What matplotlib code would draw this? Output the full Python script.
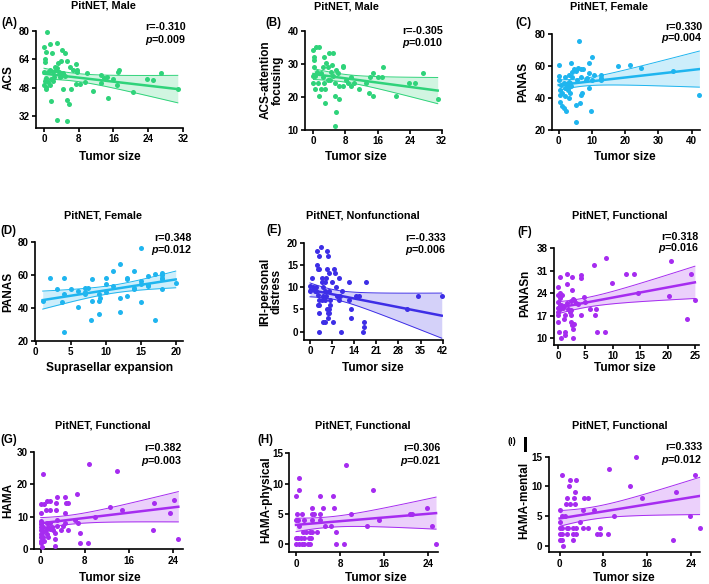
import numpy as np
import matplotlib
matplotlib.use("Agg")
import matplotlib.pyplot as plt
from matplotlib.patches import Rectangle

plt.rcParams['font.family'] = ['Liberation Sans', 'DejaVu Sans']
plt.rcParams['font.weight'] = 'bold'
plt.rcParams['mathtext.fontset'] = 'custom'
plt.rcParams['mathtext.it'] = 'Liberation Sans:italic:bold'
plt.rcParams['mathtext.rm'] = 'Liberation Sans:bold'

# ---- data: (x, y) points and the drawn fit (intercept, slope)
a_pts = [(0.7, 79.1), (0, 71), (1.3, 72.3), (2.9, 73.3), (4.2, 69.2), (4.9, 67.3), (1.8, 67.3), (0.4, 68.2),
         (0.15, 63.9), (0.15, 62.4), (5.3, 63.2), (3.8, 63.2), (3.2, 62), (7.3, 61.3), (6.1, 59.8), (6.7, 58),
         (7.6, 58), (2.5, 59.8), (3.0, 58.9), (2.7, 58), (1.3, 58), (0.9, 57), (0, 56.5), (2.1, 56.5),
         (3.4, 56.8), (4.4, 56.1), (4.8, 54.6), (3.6, 54.2), (2.3, 53.9), (1.5, 52.7), (0.5, 53.1), (0.15, 51.8),
         (1.0, 50.9), (2.1, 51.4), (0, 49.6), (0.4, 48.2), (0.5, 47.1), (1.3, 49.6), (4.0, 54.6), (4.4, 47.1),
         (6.3, 47.1), (7.3, 50.1), (8.2, 50.1), (7.6, 56.5), (9.9, 56.1), (9.4, 50.9), (11.2, 46.2), (1.5, 40.2),
         (5.2, 41.2), (5.7, 38.9), (2.9, 29.9), (5.4, 29), (13.1, 55.2), (13.8, 53.3), (14.5, 53.9), (13.2, 50.5),
         (15.9, 52.7), (16.7, 49.2), (17.2, 58), (17.1, 56.5), (14.8, 42.1), (20.5, 45.3), (23.6, 52.9),
         (25.2, 52), (26.9, 56.1), (30.8, 47.1)]
a_fit = (55.8, -0.282)

b_pts = [(0, 34.2), (0.7, 35.2), (1.3, 35.2), (0.2, 32.1), (0.1, 31.1), (2.7, 32.1), (4, 33.2), (5, 33.2),
         (3.2, 30.1), (0.25, 29.1), (2.3, 29.1), (3.6, 29.1), (4.6, 29.6), (5.7, 28.1), (7.3, 29.1), (7.5, 29.3),
         (1, 27.6), (1.9, 27.3), (4.4, 27.6), (6.1, 27.3), (0, 26.3), (0.5, 26.3), (2.5, 26.1), (4.8, 26.3),
         (3.6, 25.1), (4.2, 25.1), (1.2, 24.3), (0, 24.3), (2.7, 24.1), (5.3, 24.1), (6.5, 23.3), (7.5, 23.3),
         (8.2, 25.1), (8.6, 24.3), (9.4, 23.3), (10, 24.1), (9.4, 26.1), (0.4, 22.3), (1.9, 22.3), (2.8, 22.3),
         (1.5, 20.3), (5.3, 20.3), (2.8, 18.3), (6.3, 19.3), (5.7, 15.3), (5.3, 11.3), (11.3, 22.3), (13.1, 24.3),
         (13.9, 21.3), (14.9, 20.3), (14, 26.1), (14.9, 27.1), (16, 26.1), (17, 26.1), (17.4, 29.1), (20.6, 20.3),
         (23.8, 24.3), (25.4, 24.3), (27.3, 27.1), (31, 19.3)]
b_fit = (26.9, -0.161)

c_pts = [(6.1, 75.8), (9.9, 66), (0.2, 60.8), (3.6, 61.8), (9.1, 61.8), (17.9, 60.1), (21.3, 60.8), (24.8, 58.7),
         (34.4, 57.0), (42.3, 42), (0, 53.9), (0.2, 51.4), (1.5, 49.7), (0.8, 48.2), (2.0, 53.5), (3.0, 54.5),
         (4.1, 56.6), (5.1, 57.2), (5.9, 58.7), (4.6, 58), (6.6, 58), (7.4, 58), (9.1, 56), (10.6, 54.5),
         (12.7, 54.5), (12.7, 51.4), (12.7, 52.4), (8.6, 52.4), (6.6, 53.5), (4.1, 53), (5.4, 51.4), (3.0, 50.3),
         (2.3, 48.6), (2.5, 47.2), (3.2, 47.2), (1.8, 46.1), (2.8, 45.1), (3.3, 49.3), (0.5, 45.1), (1.0, 43.4),
         (2.0, 41.3), (0.4, 42), (0.5, 37.8), (3.0, 40.3), (3.3, 43.4), (6.6, 42), (7.1, 43.4), (9.1, 46.1),
         (1.0, 35), (1.5, 33.6), (2.3, 31.9), (5.3, 35.7), (6.3, 37.1), (9.6, 31.9), (5.1, 24.8), (8.1, 51.4),
         (10.1, 51.4), (3.8, 47.6)]
c_fit = (48.2, 0.236)

d_pts = [(1, 44.2), (2, 58.4), (3, 51.5), (3.7, 43.4), (4, 58.4), (4, 48.3), (4, 25.5), (5, 51.5), (6, 50.3),
         (6, 40.3), (7, 52.3), (7, 49.9), (7.1, 48.3), (7.4, 52.3), (7.9, 32.6), (8, 57.4), (8, 44.2), (9, 48.3),
         (9.05, 44.2), (9.2, 46.2), (9, 36.5), (10, 58.4), (10, 54.4), (10, 49.9), (11, 62.5), (11.1, 53.4),
         (12, 66.6), (12, 46.2), (12, 37.7), (13, 58.4), (13, 57.4), (13, 47.5), (14, 62.5), (14, 52.3),
         (14, 51.3), (15, 76.3), (15, 54.4), (15, 56.4), (15, 43.4), (16, 59.5), (16, 54), (16, 53.4), (17, 60.5),
         (17, 32.6), (18, 61.5), (18, 60.1), (18, 58.4), (18, 57.4), (18, 51.3), (20, 55.4)]
d_fit = (44.1, 0.663)

e_pts = [(0, 10.3), (0, 9.1), (0.8, 10.1), (0.6, 12.1), (1.5, 9.1), (1.9, 10.1), (2.1, 18.1), (3.0, 17.1),
         (3.5, 19.1), (2.1, 15.1), (2.4, 14.2), (3.0, 14.1), (1.9, 9.1), (2.4, 8.2), (3.0, 7.1), (2.4, 6.1),
         (3.0, 6.1), (2.7, 4.1), (3.0, 0), (3.8, 11.1), (3.8, 12.1), (4.2, 10.1), (4.9, 11.1), (4.9, 9.1),
         (4.2, 8.1), (3.8, 7.1), (4.6, 7.1), (4.0, 2.1), (4.9, 2.1), (5.1, 12.1), (5.3, 18.1), (5.6, 17.1),
         (5.9, 13.1), (5.3, 14.1), (5.1, 8.1), (5.3, 5.1), (5.6, 4.1), (5.9, 5.1), (6.1, 4.1), (5.6, 3.1),
         (6.4, 6.1), (6.3, 7.1), (5.9, 9.1), (7.1, 11.1), (7.6, 14.1), (7.8, 13.1), (8.2, 10.1), (7.4, 2.1),
         (8.5, 8.1), (9.1, 7.1), (9.5, 8.1), (9.3, 12.1), (9.9, 0), (10.1, 9.1), (12.2, 7.1), (12.4, 11.1),
         (13.0, 5.1), (13.0, 3.1), (14.6, 8.1), (15.6, 8.1), (16.7, 0), (17.2, 1.1), (17.2, 2.1), (17.7, 11.1),
         (30.6, 5.1), (34.1, 8.1), (41.7, 8.1)]
e_fit = (9.4, -0.139)

f_pts = [(0, 26.1), (0, 23.5), (0, 21.4), (0, 19.5), (0, 18.3), (0, 17.1), (0, 15), (0.25, 11.9), (0.4, 29.2),
         (0.3, 24), (0.3, 22.4), (0.4, 20.4), (0.4, 19.1), (0.6, 20.4), (0.7, 23.5), (0.6, 10), (0.9, 19.5),
         (1.0, 20), (1.2, 17.1), (1.0, 16), (1.2, 11.9), (1.3, 11), (1.6, 29.9), (1.6, 26.8), (1.6, 20.9),
         (1.8, 19.1), (2.1, 18.3), (2.6, 29.2), (2.6, 25), (2.4, 21.6), (2.4, 18.8), (2.4, 17.3), (2.4, 15),
         (2.6, 14.1), (2.7, 12.9), (2.7, 22.2), (2.9, 22), (2.7, 10), (3.0, 14.4), (3.2, 20.9), (3.7, 20.6),
         (4.1, 29.7), (4.1, 28.9), (4.1, 17.1), (4.7, 22.9), (4.9, 21.2), (5.9, 19), (6.5, 32.8), (6.7, 17.1),
         (7.0, 19), (7.1, 12.1), (8.5, 12.1), (8.8, 35.1), (9.8, 27.1), (12.5, 29.9), (13.8, 29.9), (14.6, 24),
         (20.2, 23), (20.7, 34.1), (23.5, 15.9), (24.3, 29.9), (25, 21.9)]
f_fit = (19.5, 0.316)

g_pts = [(0.36, 23.1), (0, 13.9), (0.6, 13.9), (1.1, 15), (1.7, 15), (1.0, 12.1), (1.7, 12.1), (2.7, 12.1),
         (2.9, 16), (2.8, 14.1), (4.4, 16), (4.6, 14.1), (5.0, 14.1), (4.4, 11.1), (6.5, 17), (0, 11.1),
         (0, 8.8), (0, 7.8), (0, 6.8), (0, 5.9), (0, 4.7), (0, 3.9), (0, 2.7), (0, 1.8), (0.2, 0.8), (0.4, 3.9),
         (0.4, 7.0), (0.5, 5.4), (0.6, 2.6), (0.9, 5.9), (1.1, 4.7), (1.2, 8), (1.4, 6.8), (1.4, 3.9), (1.6, 6.1),
         (1.7, 8), (2.0, 7), (2.3, 5.9), (2.6, 4.9), (2.6, 3.1), (2.6, 1.0), (2.9, 9), (3.0, 7.2), (3.7, 5.9),
         (4.1, 7.2), (4.4, 8), (5.0, 5.9), (6.2, 9), (6.8, 8), (7.1, 4.9), (7.1, 2.0), (8.6, 2.0), (8.8, 26.2),
         (9.8, 10), (12.5, 13.1), (13.8, 24.2), (14.7, 12.1), (20.3, 5.9), (20.5, 14.1), (23.4, 11.1),
         (24.1, 15.2), (24.9, 3.1)]
g_fit = (8.0, 0.204)

h_pts = [(9.1, 13), (0.5, 11), (0.6, 9), (0, 8), (0.1, 5), (0, 4), (0, 1), (0, 0), (0.5, 0), (0.3, 1), (0.3, 4),
         (0.5, 3), (0.9, 1), (1.1, 0), (1.1, 5), (1.2, 2), (1.5, 4), (1.5, 1), (1.5, 0), (1.8, 2), (2.1, 0),
         (2.3, 1), (2.6, 2), (2.6, 0), (2.9, 5), (2.9, 4), (3.0, 6), (3.0, 2), (3.3, 5), (2.7, 1), (3.8, 2),
         (4.3, 4), (4.4, 5), (4.4, 8), (5.0, 6), (5.2, 3), (6.4, 3), (6.7, 8), (7.0, 6), (7.3, 2), (7.3, 0),
         (8.8, 0), (10, 5), (12.9, 3), (14.1, 9), (15.1, 4), (20.7, 5), (21.1, 5), (23.8, 6), (24.8, 3),
         (25.5, 0)]
h_fit = (3.2, 0.076)

i_pts = [(14, 15), (9, 13), (0.4, 12), (24.8, 12), (12.9, 10), (21.2, 9), (15, 8), (9.9, 5), (23.8, 5),
         (25.6, 3), (20.8, 1), (1.9, 11), (2.9, 11), (1.8, 10), (2.8, 9), (1.3, 8), (2.7, 8), (4.4, 8), (5.1, 8),
         (1.1, 7), (1.9, 7), (2.8, 7), (0, 6), (4.3, 6), (6.3, 6), (0.5, 5), (1.0, 5), (0, 4), (3.7, 4), (0, 3),
         (1.3, 3), (1.6, 3), (2.5, 3), (3.0, 3), (4.3, 3), (5.2, 3), (7.3, 3), (0, 2), (0.5, 2), (1.3, 2),
         (2.4, 2), (3.0, 2), (6.9, 2), (7.3, 2), (8.8, 2), (0, 1), (0.4, 1), (2.4, 1), (0.6, 0), (0.4, 3)]
i_fit = (4.6, 0.148)

GREEN = '#2fd37a'
BLUE = '#1fb5ef'
INDIGO = '#3d2ee6'
PURPLE = '#a62cf0'

W, H = 709, 584
fig = plt.figure(figsize=(W / 100, H / 100), dpi=100)


def txt(x, y, s, size=7.7, ha='center', **kw):
    fig.text(x / W, 1 - y / H, s, ha=ha, va='center', fontsize=size, fontweight='bold', **kw)


def panel(rect, pts, fit, color, xlim, ylim, xticks, yticks):
    l, t, r, b = rect
    ax = fig.add_axes([l / W, 1 - b / H, (r - l) / W, (b - t) / H])
    pts = np.asarray(pts, dtype=float)
    x, y = pts[:, 0], pts[:, 1]
    b0, b1 = fit
    n = len(x)
    res = y - (b0 + b1 * x)
    s = np.sqrt((res ** 2).sum() / (n - 2))
    xg = np.linspace(x.min(), x.max(), 120)
    yg = b0 + b1 * xg
    hw = 1.99 * s * np.sqrt(1 / n + (xg - x.mean()) ** 2 / ((x - x.mean()) ** 2).sum())
    ax.fill_between(xg, yg - hw, yg + hw, color=color, alpha=0.22, lw=0)
    ax.plot(xg, yg - hw, color=color, lw=0.7)
    ax.plot(xg, yg + hw, color=color, lw=0.7)
    ax.plot(xg, yg, color=color, lw=1.8)
    ax.scatter(x, y, s=13, color=color, lw=0, clip_on=False, zorder=3)
    ax.set_xlim(*xlim)
    ax.set_ylim(*ylim)
    ax.set_xticks(xticks)
    ax.set_yticks(yticks)
    for sp in ['top', 'right']:
        ax.spines[sp].set_visible(False)
    for sp in ['left', 'bottom']:
        ax.spines[sp].set_linewidth(1.2)
    ax.tick_params(direction='out', length=3, width=1.2, labelsize=7.1, pad=1.5)
    for lab in ax.get_xticklabels() + ax.get_yticklabels():
        lab.set_fontweight('bold')
    ax.patch.set_alpha(0)
    return ax


# row 1
panel((36, 30.7, 183, 128), a_pts, a_fit, GREEN, (-1.84, 32), (25.2, 80), [0, 8, 16, 24, 32], [32, 48, 64, 80])
panel((305, 30.7, 441.7, 130), b_pts, b_fit, GREEN, (-2.1, 32), (10, 40), [0, 8, 16, 24, 32], [10, 20, 30, 40])
panel((552, 34.3, 699.7, 130), c_pts, c_fit, BLUE, (-2.03, 42.4), (20, 80), [0, 10, 20, 30, 40], [20, 40, 60, 80])
# row 2
panel((35, 242.3, 183, 340.7), d_pts, d_fit, BLUE, (-0.1, 21.04), (20, 80), [0, 5, 10, 15, 20], [20, 40, 60, 80])
panel((304.3, 242.7, 442.7, 340), e_pts, e_fit, INDIGO, (-1.8, 42), (-1.87, 20), list(range(0, 43, 7)),
      [0, 5, 10, 15, 20])
panel((553.7, 248.3, 698.7, 345), f_pts, f_fit, PURPLE, (-0.8, 25.7), (7.9, 38), [0, 5, 10, 15, 20, 25],
      [10, 17, 24, 31, 38])
# row 3
panel((34.3, 451.7, 183.3, 549.3), g_pts, g_fit, PURPLE, (-1.16, 25.8), (0, 30), [0, 8, 16, 24], [0, 10, 20, 30])
panel((289.3, 453.3, 437.7, 552.3), h_pts, h_fit, PURPLE, (-1.22, 25.8), (-1.32, 15), [0, 8, 16, 24],
      [0, 5, 10, 15])
panel((548.7, 456.7, 699.7, 552.3), i_pts, i_fit, PURPLE, (-2.0, 25.6), (-1.1, 15), [0, 8, 16, 24],
      [0, 5, 10, 15])

# titles
for (x, y, s) in [(103.3, 6, 'PitNET, Male'), (346, 6.7, 'PitNET, Male'), (608.7, 6.7, 'PitNET, Female'),
                  (103.3, 215.7, 'PitNET, Female'), (362.7, 215.7, 'PitNET, Nonfunctional'),
                  (620.3, 215.7, 'PitNET, Functional'), (103.3, 426, 'PitNET, Functional'),
                  (362.7, 426, 'PitNET, Functional'), (620.3, 426, 'PitNET, Functional')]:
    txt(x, y, s, size=7.8)

# panel letters
for (x, y, s) in [(1, 23.3, '(A)'), (265.3, 23.3, '(B)'), (515.3, 23.3, '(C)'), (0, 230.7, '(D)'),
                  (266.7, 230, '(E)'), (517, 231.7, '(F)'), (0, 440, '(G)'), (257.7, 440, '(H)')]:
    txt(x, y, s, size=8.3, ha='left')
txt(507, 441.5, '(I)', size=6.5, ha='left')
fig.add_artist(Rectangle((523.7 / W, 1 - 451.7 / H), 3 / W, 15 / H, transform=fig.transFigure,
                         color='black', lw=0))

# statistics
for (x, y1, y2, r, p) in [(186, 26.7, 40, '-0.310', '0.009'), (442.7, 30.7, 42.7, '-0.305', '0.010'),
                          (702, 27, 38.3, '0.330', '0.004'), (191.7, 237.7, 250, '0.348', '0.012'),
                          (446, 237.7, 250, '-0.333', '0.006'), (698.7, 236.7, 248.3, '0.318', '0.016'),
                          (181.7, 448.3, 460.7, '0.382', '0.003'), (441, 448.3, 460.7, '0.306', '0.021'),
                          (702, 447.3, 460, '0.333', '0.012')]:
    txt(x, y1, 'r=' + r, ha='right')
    txt(x, y2, '$p$=' + p, ha='right')

# y labels
for (x, y, s) in [(8.3, 78, 'ACS'), (272, 80, 'ACS-attention\nfocusing'), (523.7, 82, 'PANAS'),
                  (8.3, 291.7, 'PANAS'), (271, 291.7, 'IRI-personal\ndistress'), (525.3, 293.3, 'PANASn'),
                  (8.3, 500, 'HAMA'), (266, 500, 'HAMA-physical'), (524.5, 500, 'HAMA-mental')]:
    txt(x, y, s, size=8.5, rotation=90, linespacing=1.0, multialignment='center')

# x labels
for (x, y, s) in [(110, 157.3, 'Tumor size'), (356, 157.3, 'Tumor size'), (625.3, 157.3, 'Tumor size'),
                  (110, 368.3, 'Suprasellar expansion'), (372.7, 368.3, 'Tumor size'),
                  (625.3, 368.3, 'Tumor size'), (110, 578.3, 'Tumor size'), (376, 578.3, 'Tumor size'),
                  (623.7, 578.3, 'Tumor size')]:
    txt(x, y, s, size=8.6)

fig.savefig('out.png', dpi=100)
